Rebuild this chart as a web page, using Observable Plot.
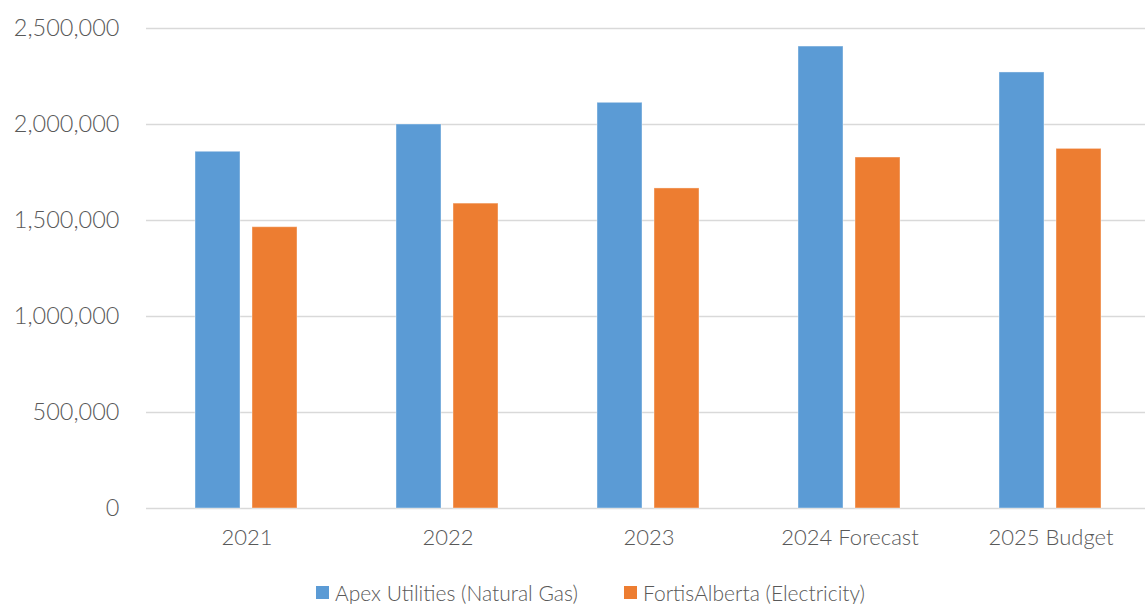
<!DOCTYPE html>
<html>
<head>
<meta charset="utf-8">
<script src="https://cdn.jsdelivr.net/npm/d3@7"></script>
<script src="https://cdn.jsdelivr.net/npm/@observablehq/plot@0.6"></script>
<style>
  html, body { margin: 0; padding: 0; background: #fff; }
  #chart { width: 1145px; height: 604px; position: relative; font-family: Lato, "DejaVu Sans", sans-serif; font-weight: 300; color: #595959; }
  #legend { position: absolute; left: 0; top: 578px; height: 28px; width: 1145px; font-size: 21px; }
  .item { position: absolute; top: 0; display: flex; align-items: center; height: 28px; white-space: nowrap; }
  .sw { width: 13px; height: 13px; margin-right: 6px; }
  #chart svg g[aria-label="y-axis tick label"], #chart svg g[aria-label="y-axis"] { font-size: 23.5px; }
</style>
</head>
<body>
<div id="chart"></div>
<script>
const categories = ["2021", "2022", "2023", "2024 Forecast", "2025 Budget"];
const series = ["Apex Utilities (Natural Gas)", "FortisAlberta (Electricity)"];
const apexValues = [1858000, 2000000, 2113000, 2406000, 2271000];
const fortisValues = [1465000, 1588000, 1667000, 1828000, 1873000];
const yTicks = [0, 500000, 1000000, 1500000, 2000000, 2500000];
const colors = ["#5b9bd5", "#ed7d31"];
const legendLeft = [316, 624];

const data = [];
categories.forEach((c, i) => {
  data.push({category: c, series: series[0], value: apexValues[i]});
  data.push({category: c, series: series[1], value: fortisValues[i]});
});

const chart = Plot.plot({
  width: 1145,
  height: 565,
  marginTop: 28,
  marginBottom: 57,
  marginLeft: 145,
  marginRight: 0,
  style: {fontFamily: "Lato, 'DejaVu Sans', sans-serif", fontSize: "22px", fontWeight: 300, color: "#595959", background: "white"},
  facet: {data, x: "category", marginBottom: 57},
  fx: {domain: categories, range: [144.5, 1153.25], padding: 0, axis: "bottom", label: null, tickSize: 0, tickPadding: 21},
  x: {domain: series, axis: null, paddingInner: 0.207, paddingOuter: 0.843},
  y: {domain: [0, 2500000], ticks: yTicks, tickFormat: d3.format(","), tickSize: 0, tickPadding: 27, label: null},
  color: {domain: series, range: colors},
  marks: [
    Plot.ruleY(yTicks, {stroke: "#d9d9d9", strokeWidth: 1.5}),
    Plot.barY(data, {x: "series", y: "value", fill: "series", stroke: "white", strokeOpacity: 0.4, strokeWidth: 1})
  ]
});
const root = document.getElementById("chart");
root.appendChild(chart);

const legend = document.createElement("div");
legend.id = "legend";
series.forEach((s, i) => {
  const item = document.createElement("div");
  item.className = "item";
  item.style.left = legendLeft[i] + "px";
  const sw = document.createElement("span");
  sw.className = "sw";
  sw.style.background = colors[i];
  const t = document.createElement("span");
  t.textContent = s;
  item.appendChild(sw);
  item.appendChild(t);
  legend.appendChild(item);
});
root.appendChild(legend);
</script>
</body>
</html>
